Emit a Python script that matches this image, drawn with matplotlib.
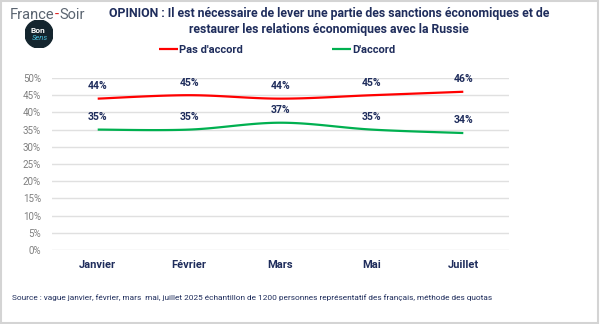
import numpy as np
import matplotlib.pyplot as plt
from matplotlib.patches import Rectangle, Circle

months = ["Janvier", "Février", "Mars", "Mai", "Juillet"]
pas_accord = [44, 45, 44, 45, 46]
accord = [35, 35, 37, 35, 34]
yticks = [0, 5, 10, 15, 20, 25, 30, 35, 40, 45, 50]

title = ("OPINION : Il est nécessaire de lever une partie des sanctions économiques et de\n"
         "restaurer les relations économiques avec la Russie")
source = ("Source : vague janvier, février, mars  mai, juillet 2025 échantillon de 1200 "
          "personnes représentatif des français, méthode des quotas")

NAVY = "#1f2d5c"
RED = "#ff0000"
GREEN = "#00b050"

plt.rcParams["font.family"] = ["Roboto", "DejaVu Sans"]


def smooth(y, n=30):
    # Catmull-Rom style curve through the points, like Excel's smoothed lines
    y = np.asarray(y, float)
    x = np.arange(len(y), dtype=float)
    px = np.concatenate([[x[0]], x, [x[-1]]])
    py = np.concatenate([[y[0]], y, [y[-1]]])
    xs, ys = [], []
    t = np.linspace(0, 1, n)
    bez = lambda a, b, c, d: ((1 - t) ** 3 * a + 3 * (1 - t) ** 2 * t * b
                              + 3 * (1 - t) * t ** 2 * c + t ** 3 * d)
    for i in range(len(y) - 1):
        p0, p1, p2, p3 = py[i:i + 4]
        q0, q1, q2, q3 = px[i:i + 4]
        xs.append(bez(q1, q1 + (q2 - q0) / 6, q2 - (q3 - q1) / 6, q2))
        ys.append(bez(p1, p1 + (p2 - p0) / 6, p2 - (p3 - p1) / 6, p2))
    return np.concatenate(xs), np.concatenate(ys)


fig = plt.figure(figsize=(6, 3.24), dpi=100)
fig.patch.set_facecolor("white")
fig.add_artist(Rectangle((0.002, 0.004), 0.994, 0.992, transform=fig.transFigure,
                         fill=False, edgecolor="#d4d4d4", lw=1.5))

ax = fig.add_axes([52 / 600, (324 - 250) / 324, 457 / 600, 172 / 324])
for s in ax.spines.values():
    s.set_visible(False)
ax.set_xlim(-0.5, len(months) - 0.5)
ax.set_ylim(0, 50)
ax.set_yticks(yticks)
ax.set_yticklabels([f"{v}%" for v in yticks], color="#7f7f7f", fontsize=7)
ax.grid(axis="y", color="#e0e0e0", lw=1)
ax.set_axisbelow(True)
ax.tick_params(length=0, pad=8)
ax.tick_params(axis="x", pad=7)
x = np.arange(len(months))
ax.set_xticks(x)
ax.set_xticklabels(months, color=NAVY, fontsize=8, fontweight="bold")

for vals, col, lab in [(pas_accord, RED, "Pas d'accord"), (accord, GREEN, "D'accord")]:
    sx, sy = smooth(vals)
    ax.plot(sx, sy, color=col, lw=1.6, label=lab, solid_capstyle="butt")
    for xi, v in zip(x, vals):
        ax.annotate(f"{v}%", (xi, v), xytext=(0, 5.5), textcoords="offset points",
                    ha="center", va="bottom", color=NAVY, fontsize=7.5,
                    fontweight="bold")

leg = fig.legend(loc="center", bbox_to_anchor=(0.462, (324 - 50) / 324), ncol=2,
                 frameon=False, handlelength=1.7, handletextpad=0.1,
                 columnspacing=8, prop={"weight": "bold", "size": 8})
for t in leg.get_texts():
    t.set_color(NAVY)

fig.text(0.548, (324 - 22) / 324, title, ha="center", va="center", color=NAVY,
         fontsize=8.8, fontweight="bold", linespacing=1.3)
fig.text(12 / 600, (324 - 298) / 324, source, ha="left", va="center", color=NAVY,
         fontsize=5.95)

# logo: "France-Soir" with a red hyphen, then the round "Bon Sens" badge
renderer = fig.canvas.get_renderer()
xpos = 10 / 600
for piece, col in [("France", "#5a6470"), ("-", "#e02020"), ("Soir", "#5a6470")]:
    t = fig.text(xpos, (324 - 15) / 324, piece, color=col, fontsize=10.5,
                 ha="left", va="center")
    bb = t.get_window_extent(renderer)
    xpos = bb.x1 / fig.bbox.width + 0.5 / 600

logo = fig.add_axes([25 / 600, (324 - 48) / 324, 28 / 600, 28 / 324])
logo.set_xlim(-1, 1)
logo.set_ylim(-1, 1)
logo.set_aspect("equal")
logo.axis("off")
logo.add_patch(Circle((0, 0), 1, color="#14252e"))
logo.text(-0.05, 0.28, "Bon", color="white", fontsize=6, ha="center", va="center",
          fontweight="bold")
logo.text(0.1, -0.32, "Sens", color="#4fc3e0", fontsize=5.5, ha="center",
          va="center", style="italic")

fig.savefig("out.png", dpi=100)
